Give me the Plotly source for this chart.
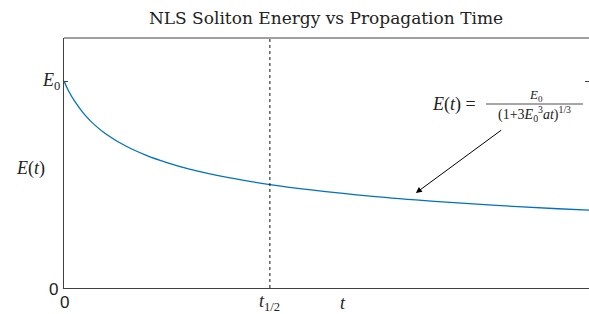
import plotly.graph_objects as go

# Time in units of t_1/2, energy in units of E0
t_vals = [0, 0.02, 0.05, 0.1, 0.15, 0.2, 0.3, 0.4, 0.5, 0.6, 0.8, 1.0, 1.2, 1.5, 1.8, 2.1, 2.4, 2.55]
e_vals = [1.0, 0.957, 0.905, 0.838, 0.787, 0.747, 0.686, 0.641, 0.606, 0.577, 0.533, 0.5, 0.474, 0.443, 0.419, 0.399, 0.383, 0.376]
t_half = 1.0
x_range = [0, 2.55]
y_range = [0, 1.208]

SERIF = "Liberation Serif, Times New Roman, serif"
TSERIF = "DejaVu Serif, serif"
SANS = "Liberation Sans, Arial, sans-serif"
AX = "#404040"
TXT = "#222"

W, H = 589, 314
L, R, T, B = 64, 0, 38, 314 - 288
PW = W - L - R
PH = H - T - B


def px(xw):
    return (xw - L) / PW


def py(yw):
    return (H - B - yw) / PH


fig = go.Figure()
fig.add_trace(go.Scatter(x=t_vals, y=e_vals, mode="lines",
                         line=dict(color="#0072BD", width=1.3, shape="spline"),
                         hoverinfo="skip", showlegend=False))

fig.add_shape(type="line", xref="x", yref="paper", x0=t_half, x1=t_half, y0=0, y1=1,
              line=dict(color="#111", width=1, dash="3px,3px"))

# top box line
fig.add_shape(type="line", xref="paper", yref="paper", x0=0, x1=1, y0=1, y1=1,
              line=dict(color=AX, width=1))

anns = []
# tick labels
anns.append(dict(x=0, y=0, xref="x", yref="y", text="0", showarrow=False,
                 xanchor="center", yanchor="top", yshift=-3, font=dict(family=SANS, size=17, color=TXT)))
anns.append(dict(x=0, y=0, xref="x", yref="y", text="0", showarrow=False,
                 xanchor="right", yanchor="middle", xshift=-4, yshift=-1, font=dict(family=SANS, size=17, color=TXT)))
anns.append(dict(x=0, y=1, xref="x", yref="y", text="<i>E</i><sub>0</sub>", showarrow=False,
                 xanchor="right", yanchor="middle", xshift=-2, font=dict(family=SERIF, size=18, color=TXT)))
anns.append(dict(x=t_half, y=0, xref="x", yref="y", text="<i>t</i><sub>1/2</sub>", showarrow=False,
                 xanchor="center", yanchor="top", yshift=-1, font=dict(family=SERIF, size=18, color=TXT)))
# axis titles
anns.append(dict(x=px(343), y=0, xref="paper", yref="y", text="<i>t</i>", showarrow=False,
                 xanchor="center", yanchor="top", yshift=-3, font=dict(family=SERIF, size=18, color=TXT)))
anns.append(dict(x=px(30), y=py(168), xref="paper", yref="paper", text="<i>E</i>(<i>t</i>)",
                 showarrow=False, xanchor="center", yanchor="middle", font=dict(family=SERIF, size=18, color=TXT)))
# arrow
anns.append(dict(x=1.709, y=0.459, ax=2.131, ay=0.768, xref="x", yref="y", axref="x", ayref="y",
                 text="", showarrow=True, arrowhead=2, arrowsize=1.2, arrowwidth=1, arrowcolor="black"))
# formula
anns.append(dict(x=px(478), y=py(104), xref="paper", yref="paper",
                 text="<i>E</i>(<i>t</i>) =", showarrow=False, xanchor="right", yanchor="middle",
                 font=dict(family=SERIF, size=18, color=TXT)))
anns.append(dict(x=px(536), y=py(104), xref="paper", yref="paper",
                 text="<i>E</i><sub>0</sub>", showarrow=False, xanchor="center", yanchor="bottom", yshift=-2,
                 font=dict(family=SERIF, size=13, color=TXT)))
anns.append(dict(x=px(534), y=py(104), xref="paper", yref="paper",
                 text="(1+3<i>E</i><sub>0</sub><sup>3</sup><i>at</i>)<sup>1/3</sup>", showarrow=False,
                 xanchor="center", yanchor="top", yshift=2,
                 font=dict(family=SERIF, size=14, color=TXT)))
fig.add_shape(type="line", xref="paper", yref="paper", x0=px(486), x1=px(583),
              y0=py(104), y1=py(104), line=dict(color=TXT, width=0.8))

fig.update_layout(
    width=W, height=H,
    margin=dict(l=L, r=R, t=T, b=B),
    paper_bgcolor="white", plot_bgcolor="white",
    title=dict(text="NLS Soliton Energy vs Propagation Time", x=326 / W, xanchor="center",
               y=1 - 18 / H, yanchor="middle", font=dict(family=TSERIF, size=17, color=TXT)),
    annotations=anns,
    showlegend=False,
)
fig.update_xaxes(range=x_range, showgrid=False, zeroline=False, showline=True, linecolor=AX, linewidth=1,
                 showticklabels=False, ticks="", fixedrange=True)
fig.update_yaxes(range=y_range, showgrid=False, zeroline=False, showline=True, linecolor=AX, linewidth=1,
                 tickvals=[1], ticks="inside", ticklen=4, tickcolor=AX, mirror="ticks",
                 showticklabels=False, fixedrange=True)

fig.write_html("out.html", config={"displayModeBar": False},
               post_script="document.body.style.margin='0';document.body.style.overflow='hidden';")
